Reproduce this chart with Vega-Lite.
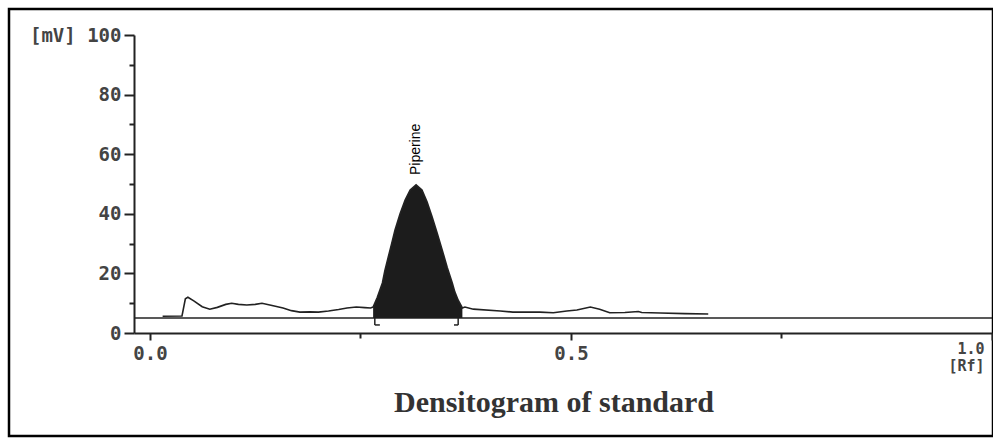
{
  "$schema": "https://vega.github.io/schema/vega-lite/v6.json",
  "width": 984,
  "height": 427,
  "autosize": {"type": "none"},
  "padding": {"left": 9, "top": 9, "right": 0, "bottom": 4},
  "background": "white",
  "title": {
    "text": "Densitogram of standard",
    "orient": "bottom",
    "anchor": "middle",
    "frame": "group",
    "offset": -24,
    "dx": 53,
    "baseline": "alphabetic",
    "font": "Liberation Serif",
    "fontSize": 30,
    "fontWeight": "bold",
    "color": "#333333"
  },
  "datasets": {
    "trace": [
      {"rf": 0.015, "mv": 5.6}, {"rf": 0.038, "mv": 5.7}, {"rf": 0.042, "mv": 11.5}, {"rf": 0.045, "mv": 12.0},
      {"rf": 0.052, "mv": 10.8}, {"rf": 0.062, "mv": 8.8}, {"rf": 0.071, "mv": 8.0}, {"rf": 0.080, "mv": 8.6},
      {"rf": 0.090, "mv": 9.6}, {"rf": 0.097, "mv": 10.0}, {"rf": 0.105, "mv": 9.6}, {"rf": 0.115, "mv": 9.4},
      {"rf": 0.125, "mv": 9.6}, {"rf": 0.133, "mv": 10.0}, {"rf": 0.145, "mv": 9.2}, {"rf": 0.158, "mv": 8.4},
      {"rf": 0.168, "mv": 7.5}, {"rf": 0.178, "mv": 7.0}, {"rf": 0.190, "mv": 7.1}, {"rf": 0.200, "mv": 7.0},
      {"rf": 0.212, "mv": 7.4}, {"rf": 0.224, "mv": 7.9}, {"rf": 0.234, "mv": 8.4}, {"rf": 0.245, "mv": 8.7},
      {"rf": 0.255, "mv": 8.5}, {"rf": 0.262, "mv": 8.4}, {"rf": 0.265, "mv": 8.7}, {"rf": 0.270, "mv": 12.0},
      {"rf": 0.276, "mv": 16.8}, {"rf": 0.279, "mv": 21.0}, {"rf": 0.283, "mv": 25.5}, {"rf": 0.287, "mv": 30.0},
      {"rf": 0.291, "mv": 34.6}, {"rf": 0.297, "mv": 40.0}, {"rf": 0.303, "mv": 44.6}, {"rf": 0.309, "mv": 48.0},
      {"rf": 0.316, "mv": 49.7}, {"rf": 0.323, "mv": 48.0}, {"rf": 0.329, "mv": 44.0}, {"rf": 0.335, "mv": 39.0},
      {"rf": 0.341, "mv": 33.6}, {"rf": 0.347, "mv": 27.9}, {"rf": 0.353, "mv": 22.0}, {"rf": 0.359, "mv": 16.8},
      {"rf": 0.362, "mv": 13.8}, {"rf": 0.366, "mv": 11.0}, {"rf": 0.371, "mv": 8.4}, {"rf": 0.374, "mv": 8.7},
      {"rf": 0.384, "mv": 8.0}, {"rf": 0.416, "mv": 7.4}, {"rf": 0.431, "mv": 7.0}, {"rf": 0.463, "mv": 7.0},
      {"rf": 0.479, "mv": 6.8}, {"rf": 0.495, "mv": 7.4}, {"rf": 0.507, "mv": 7.7}, {"rf": 0.523, "mv": 8.7},
      {"rf": 0.534, "mv": 8.0}, {"rf": 0.546, "mv": 6.8}, {"rf": 0.564, "mv": 6.9}, {"rf": 0.580, "mv": 7.2},
      {"rf": 0.584, "mv": 6.9}, {"rf": 0.606, "mv": 6.7}, {"rf": 0.635, "mv": 6.5}, {"rf": 0.663, "mv": 6.4}
    ],
    "baseline": [{"rf": -0.019, "rf2": 1.0, "mv": 5}],
    "brackets": [
      {"rf": 0.267, "rf2": 0.267, "mv": 5, "mv2": 2.7},
      {"rf": 0.267, "rf2": 0.273, "mv": 2.7, "mv2": 2.7},
      {"rf": 0.366, "rf2": 0.366, "mv": 5, "mv2": 2.7},
      {"rf": 0.361, "rf2": 0.366, "mv": 2.7, "mv2": 2.7}
    ],
    "labels": [{"rf": 0.316, "mv": 53, "name": "Piperine"}]
  },
  "encoding": {
    "x": {
      "field": "rf",
      "type": "quantitative",
      "scale": {"domain": [-0.019, 1.0], "range": [125, 983], "nice": false, "zero": false},
      "axis": {
        "title": null,
        "offset": -103,
        "grid": false,
        "values": [0, 0.25, 0.5, 0.75, 1],
        "labelExpr": "datum.value == 1 ? ['1.0', '[Rf]'] : ((datum.value == 0 || datum.value == 0.5) ? format(datum.value, '.1f') : '')",
        "labelOverlap": false,
        "labelFont": "DejaVu Sans Mono",
        "labelFontWeight": "bold",
        "labelColor": "#444444",
        "labelFontSize": {"condition": {"test": "datum.value == 1", "value": 15}, "value": 19},
        "labelAlign": {"condition": {"test": "datum.value == 1", "value": "right"}, "value": "center"},
        "labelOffset": {"condition": {"test": "datum.value == 1", "value": -8}, "value": 0},
        "labelPadding": {"condition": {"test": "datum.value == 1", "value": 1}, "value": 4},
        "labelLineHeight": 17,
        "labelBound": false,
        "labelFlush": false,
        "tickSize": {"condition": {"test": "datum.value == 0.25 || datum.value == 0.75", "value": 5}, "value": 7},
        "tickColor": "#222222",
        "tickWidth": 2,
        "domainColor": "#222222",
        "domainWidth": 2
      }
    },
    "y": {
      "field": "mv",
      "type": "quantitative",
      "scale": {"domain": [0, 100], "range": [324, 26], "nice": false, "zero": false},
      "axis": {
        "title": null,
        "offset": -125,
        "grid": false,
        "values": [0, 10, 20, 30, 40, 50, 60, 70, 80, 90, 100],
        "labelExpr": "datum.value == 100 ? '[mV] 100' : (datum.value % 20 == 0 ? datum.label : '')",
        "labelOverlap": false,
        "labelFont": "DejaVu Sans Mono",
        "labelFontWeight": "bold",
        "labelColor": "#444444",
        "labelFontSize": 19,
        "labelPadding": 3,
        "labelBound": false,
        "labelFlush": false,
        "tickSize": {"condition": {"test": "datum.value % 20 == 10", "value": 5}, "value": 10},
        "tickColor": "#222222",
        "tickWidth": 2,
        "domainColor": "#222222",
        "domainWidth": 2
      }
    }
  },
  "layer": [
    {
      "data": {"name": "baseline"},
      "mark": {"type": "rule", "color": "#222222", "strokeWidth": 1.5},
      "encoding": {"x2": {"field": "rf2"}}
    },
    {
      "data": {"name": "trace"},
      "transform": [{"filter": "datum.rf >= 0.264 && datum.rf <= 0.372"}],
      "mark": {"type": "area", "color": "#1c1c1c", "opacity": 1},
      "encoding": {"y2": {"datum": 5}}
    },
    {
      "data": {"name": "trace"},
      "mark": {"type": "line", "color": "#222222", "strokeWidth": 1.6},
      "encoding": {}
    },
    {
      "data": {"name": "brackets"},
      "mark": {"type": "rule", "color": "#222222", "strokeWidth": 1.5},
      "encoding": {"x2": {"field": "rf2"}, "y2": {"field": "mv2"}}
    },
    {
      "data": {"name": "labels"},
      "mark": {"type": "text", "angle": 270, "align": "left", "baseline": "middle", "font": "Liberation Sans", "fontSize": 14, "color": "#000000"},
      "encoding": {"text": {"field": "name"}}
    }
  ],
  "config": {
    "view": {"stroke": "#000000", "strokeWidth": 2.5}
  }
}
